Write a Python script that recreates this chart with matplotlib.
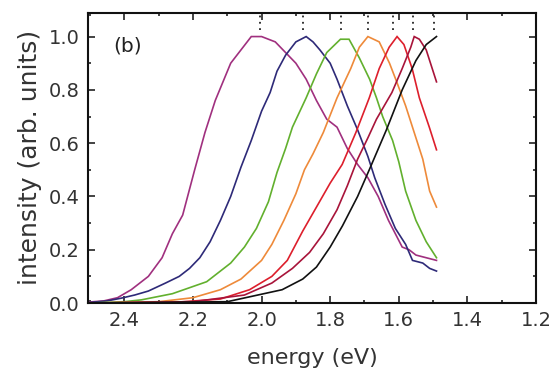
import matplotlib
matplotlib.use("Agg")
import matplotlib.pyplot as plt
from matplotlib.ticker import MultipleLocator

# ---- data ----
E_mag = [2.50, 2.46, 2.42, 2.38, 2.33, 2.29, 2.26, 2.23, 2.195, 2.165, 2.135, 2.09, 2.03, 2.00,
         1.96, 1.93, 1.90, 1.87, 1.84, 1.81, 1.78, 1.75, 1.72, 1.69, 1.66, 1.63, 1.61, 1.59,
         1.57, 1.55, 1.52, 1.49]
I_mag = [0.004, 0.008, 0.02, 0.05, 0.10, 0.17, 0.26, 0.33, 0.50, 0.64, 0.76, 0.90, 1.0, 1.0,
         0.98, 0.94, 0.90, 0.84, 0.76, 0.69, 0.66, 0.58, 0.52, 0.47, 0.40, 0.31, 0.26, 0.21,
         0.20, 0.18, 0.17, 0.16]

E_blue = [2.50, 2.45, 2.41, 2.37, 2.33, 2.28, 2.24, 2.21, 2.18, 2.15, 2.12, 2.09, 2.06, 2.03,
          2.00, 1.975, 1.955, 1.93, 1.90, 1.87, 1.85, 1.83, 1.80, 1.78, 1.75, 1.72, 1.69,
          1.67, 1.64, 1.61, 1.58, 1.56, 1.53, 1.51, 1.49]
I_blue = [0.002, 0.008, 0.018, 0.03, 0.045, 0.075, 0.10, 0.13, 0.17, 0.23, 0.31, 0.40, 0.51, 0.61,
          0.72, 0.79, 0.87, 0.93, 0.98, 1.0, 0.98, 0.95, 0.90, 0.84, 0.74, 0.65, 0.55,
          0.47, 0.37, 0.28, 0.22, 0.16, 0.15, 0.13, 0.12]

E_green = [2.50, 2.40, 2.35, 2.26, 2.16, 2.09, 2.05, 2.015, 1.98, 1.955, 1.93, 1.91, 1.87, 1.84,
           1.81, 1.77, 1.745, 1.715, 1.685, 1.665, 1.647, 1.618, 1.60, 1.58, 1.55, 1.52, 1.49]
I_green = [0.0, 0.005, 0.012, 0.035, 0.08, 0.15, 0.21, 0.28, 0.38, 0.49, 0.58, 0.66, 0.77, 0.86,
           0.94, 0.99, 0.99, 0.92, 0.84, 0.77, 0.70, 0.61, 0.53, 0.42, 0.31, 0.23, 0.17]

E_orange = [2.50, 2.30, 2.20, 2.12, 2.06, 2.00, 1.97, 1.935, 1.90, 1.875, 1.85, 1.82, 1.78, 1.74,
            1.715, 1.69, 1.657, 1.627, 1.606, 1.58, 1.56, 1.53, 1.51, 1.49]
I_orange = [0.0, 0.005, 0.02, 0.05, 0.09, 0.16, 0.22, 0.31, 0.41, 0.50, 0.56, 0.64, 0.77, 0.88,
            0.96, 1.0, 0.98, 0.90, 0.83, 0.74, 0.66, 0.54, 0.42, 0.36]

E_red = [2.50, 2.25, 2.12, 2.035, 1.97, 1.925, 1.88, 1.84, 1.80, 1.765, 1.725, 1.686, 1.657, 1.628,
         1.605, 1.585, 1.561, 1.54, 1.511, 1.49]
I_red = [0.0, 0.003, 0.015, 0.05, 0.10, 0.16, 0.27, 0.36, 0.45, 0.52, 0.64, 0.77, 0.88, 0.96,
         1.0, 0.97, 0.88, 0.77, 0.66, 0.575]

E_crim = [2.50, 2.20, 2.05, 1.97, 1.91, 1.86, 1.82, 1.78, 1.75, 1.72, 1.69, 1.665, 1.62, 1.59,
          1.565, 1.555, 1.54, 1.52, 1.505, 1.49]
I_crim = [0.0, 0.005, 0.03, 0.075, 0.13, 0.19, 0.26, 0.35, 0.44, 0.54, 0.62, 0.69, 0.79, 0.88,
          0.96, 1.0, 0.99, 0.95, 0.89, 0.83]

E_black = [2.50, 2.10, 1.94, 1.88, 1.84, 1.80, 1.764, 1.72, 1.686, 1.636, 1.59, 1.55, 1.52, 1.49]
I_black = [0.0, 0.005, 0.05, 0.09, 0.135, 0.21, 0.29, 0.40, 0.50, 0.65, 0.80, 0.91, 0.97, 1.0]

peak_E = [2.006, 1.88, 1.767, 1.69, 1.618, 1.558, 1.497]

series = [
    (E_mag, I_mag, "#A0307F"),
    (E_blue, I_blue, "#2E2A78"),
    (E_green, I_green, "#62B02E"),
    (E_orange, I_orange, "#EE8A3A"),
    (E_red, I_red, "#DD1F2C"),
    (E_crim, I_crim, "#A8143A"),
    (E_black, I_black, "#111111"),
]

x_ticks = [2.4, 2.2, 2.0, 1.8, 1.6, 1.4, 1.2]
y_ticks = [0.0, 0.2, 0.4, 0.6, 0.8, 1.0]

fig = plt.figure(figsize=(5.5, 3.7), dpi=100)
ax = fig.add_axes([0.16, 0.181, 0.8145, 0.785])

for E, I, c in series:
    ax.plot(E, I, color=c, lw=1.2, solid_joinstyle="miter")

for pe in peak_E:
    ax.plot([pe, pe], [1.025, 1.09], color="#222222", lw=1.3, linestyle=(0, (1, 2.5)))

ax.set_xlim(2.506, 1.203)
ax.set_ylim(0.0, 1.09)
ax.set_xticks(x_ticks)
ax.set_xticklabels([f"{v:.1f}" for v in x_ticks])
ax.set_yticks(y_ticks)
ax.set_yticklabels([f"{v:.1f}" for v in y_ticks])
ax.xaxis.set_minor_locator(MultipleLocator(0.1))
ax.yaxis.set_minor_locator(MultipleLocator(0.1))
ax.tick_params(which="both", direction="in", top=True, right=True, width=1.2,
               labelsize=14, colors="#222222", labelcolor="#333333")
ax.tick_params(which="major", length=5, pad=6)
ax.tick_params(which="minor", length=2.5)
for s in ax.spines.values():
    s.set_linewidth(1.5)
    s.set_color("#111111")

ax.set_xlabel("energy (eV)", fontsize=16, color="#333333", labelpad=13)
ax.set_ylabel("intensity (arb. units)", fontsize=18, color="#333333", labelpad=5)
ax.text(2.39, 0.965, "(b)", fontsize=14.5, color="#222222", ha="center", va="center")

fig.savefig("out.png", dpi=100)
